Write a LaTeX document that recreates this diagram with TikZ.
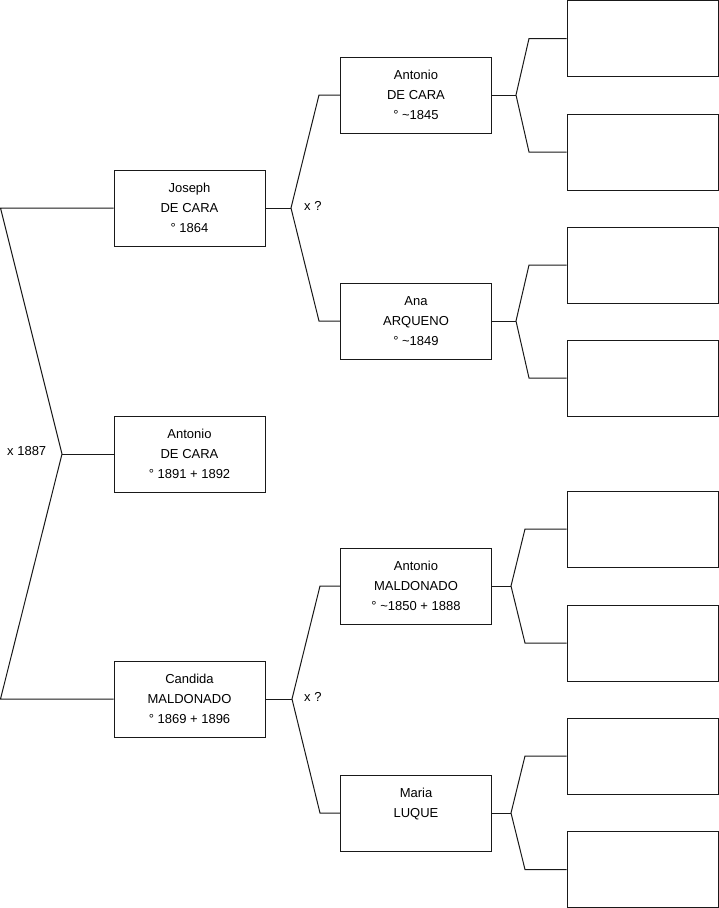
\documentclass[tikz,border=0pt]{standalone}
\usepackage{fontspec}
\setmainfont{Liberation Sans}

\begin{document}
\begin{tikzpicture}[
    x=1pt, y=-1pt,
    person/.style={draw=black!90, line width=1pt, minimum width=151pt, minimum height=76pt, inner sep=0pt, align=center, font=\fontsize{13}{20}\selectfont},
    link/.style={draw=black!90, line width=1pt},
    marr/.style={anchor=west, inner sep=0pt, font=\fontsize{13}{20}\selectfont}
]
    \useasboundingbox (0,0) rectangle (719,908);

    % Generation 1
    \node[person] (joseph) at (189.5, 208) {Joseph\\DE CARA\\° 1864};
    \node[person] (antonio) at (189.5, 454) {Antonio\\DE CARA\\° 1891 + 1892};
    \node[person] (candida) at (189.5, 699) {Candida\\MALDONADO\\° 1869 + 1896};

    % Generation 2
    \node[person] (adc) at (416, 95) {Antonio\\DE CARA\\° \textasciitilde1845};
    \node[person] (ana) at (416, 321) {Ana\\ARQUENO\\° \textasciitilde1849};
    \node[person] (amal) at (416, 586) {Antonio\\MALDONADO\\° \textasciitilde1850 + 1888};
    \node[person] (maria) at (416, 813) {Maria\\LUQUE\\\mbox{}};

    % Generation 3 (empty)
    \node[person] (g3a) at (642.5, 38.5) {};
    \node[person] (g3b) at (642.5, 152) {};
    \node[person] (g3c) at (642.5, 265) {};
    \node[person] (g3d) at (642.5, 378) {};
    \node[person] (g3e) at (642.5, 529) {};
    \node[person] (g3f) at (642.5, 643) {};
    \node[person] (g3g) at (642.5, 756) {};
    \node[person] (g3h) at (642.5, 869.5) {};

    % Root marriage
    \coordinate (rt) at (0.5, 208);
    \coordinate (rb) at (0.5, 699);
    \coordinate (j0) at (62, 454);
    \draw[link] (joseph.west) -- (rt) -- (j0) -- (rb) -- (candida.west);
    \draw[link] (j0) -- (antonio.west);
    \node[marr] (m0) at (7, 451) {x 1887};

    % Parents of Joseph
    \coordinate (j1) at (291, 208);
    \coordinate (c1a) at (319, 95);
    \coordinate (c1b) at (319, 321);
    \draw[link] (joseph.east) -- (j1);
    \draw[link] (adc.west) -- (c1a) -- (j1) -- (c1b) -- (ana.west);
    \node[marr] (m1) at (304, 206) {x ?};

    % Parents of Candida
    \coordinate (j2) at (292, 699);
    \coordinate (c2a) at (320, 586);
    \coordinate (c2b) at (320, 813);
    \draw[link] (candida.east) -- (j2);
    \draw[link] (amal.west) -- (c2a) -- (j2) -- (c2b) -- (maria.west);
    \node[marr] (m2) at (304, 697) {x ?};

    % Generation 3 links
    \coordinate (k1) at (516, 95);
    \draw[link] (adc.east) -- (k1);
    \draw[link] (g3a.west) -- (529, 38.5) -- (k1) -- (529, 152) -- (g3b.west);
    \coordinate (k2) at (516, 321);
    \draw[link] (ana.east) -- (k2);
    \draw[link] (g3c.west) -- (529, 265) -- (k2) -- (529, 378) -- (g3d.west);
    \coordinate (k3) at (511, 586);
    \draw[link] (amal.east) -- (k3);
    \draw[link] (g3e.west) -- (525, 529) -- (k3) -- (525, 643) -- (g3f.west);
    \coordinate (k4) at (511, 813);
    \draw[link] (maria.east) -- (k4);
    \draw[link] (g3g.west) -- (525, 756) -- (k4) -- (525, 869.5) -- (g3h.west);
\end{tikzpicture}
\end{document}
